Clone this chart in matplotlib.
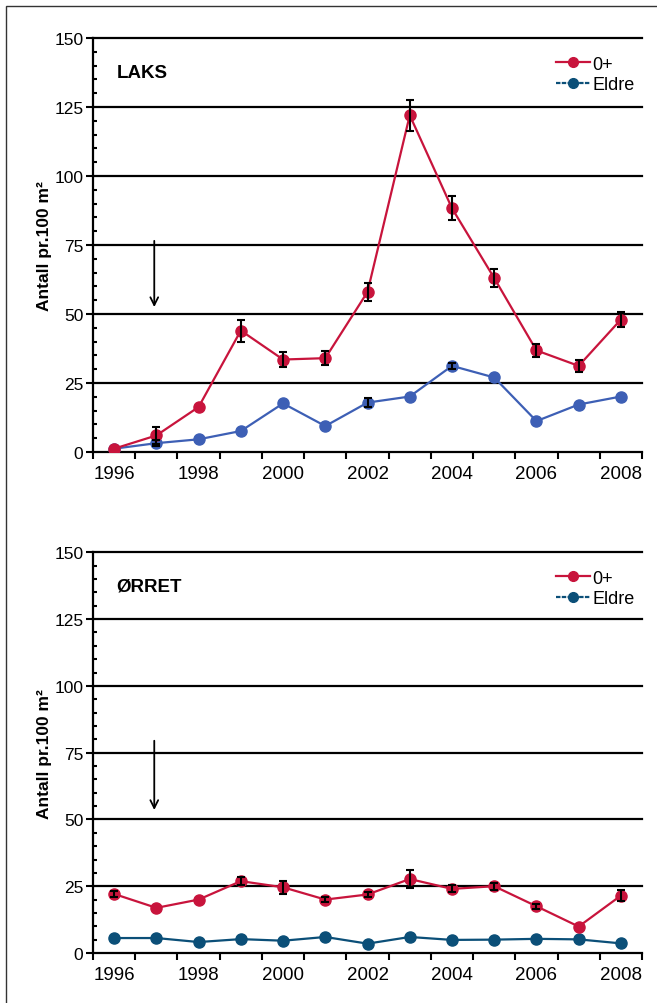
import matplotlib.pyplot as plt
import numpy as np
from matplotlib.lines import Line2D
from matplotlib.patches import Rectangle

plt.rcParams['font.family'] = ['Liberation Sans', 'DejaVu Sans']

years = list(range(1996, 2009))
year_labels = ['1996', '1998', '2000', '2002', '2004', '2006', '2008']

# LAKS, antall pr. 100 m2
laks_0 = [1.2, 6.0, 16.3, 44.0, 33.5, 34.0, 58.0, 122.0, 88.3, 63.0, 36.8, 31.2, 48.0]
laks_0_err = [0, 3.0, 0, 4.0, 2.8, 2.5, 3.3, 5.7, 4.4, 3.4, 2.4, 2.1, 2.7]
laks_eldre = [1.2, 3.2, 4.6, 7.6, 17.6, 9.4, 17.9, 20.1, 31.2, 27.0, 11.2, 17.2, 20.1]
laks_eldre_err = [0, 1.2, 0, 0, 0, 0, 1.5, 0, 1.0, 0, 0, 0, 0]

# ØRRET, antall pr. 100 m2
orret_0 = [22.1, 16.9, 20.0, 26.9, 24.6, 20.0, 21.9, 27.7, 24.0, 25.0, 17.5, 9.9, 21.5]
orret_0_err = [1.0, 0, 0, 1.5, 2.4, 0.8, 0.8, 3.5, 1.3, 1.3, 1.0, 0, 2.0]
orret_eldre = [5.6, 5.6, 4.1, 5.2, 4.6, 6.0, 3.5, 6.0, 4.9, 5.0, 5.3, 5.1, 3.6]
orret_eldre_err = [0] * 13

RED = '#c8143c'
BLUE = '#3d5fb5'
TEAL = '#0b4f78'


def add_errors(ax, x, y, err):
    x = np.asarray(x)
    y = np.asarray(y)
    err = np.asarray(err)
    m = err > 0
    if m.any():
        ax.errorbar(x[m], y[m], yerr=err[m], fmt='none', ecolor='black',
                    elinewidth=1.5, capsize=3, capthick=1.5, zorder=5)


def plot_panel(ax, title, young, young_err, old, old_err, old_color, arrow_top, arrow_bottom):
    x = np.arange(len(years))
    ax.plot(x, young, color=RED, lw=1.6, marker='o', ms=8, zorder=4)
    ax.plot(x, old, color=old_color, lw=1.6, marker='o', ms=8, zorder=3)
    add_errors(ax, x, young, young_err)
    add_errors(ax, x, old, old_err)

    ax.set_xlim(-0.5, len(years) - 0.5)
    ax.set_ylim(0, 150)
    for v in range(25, 151, 25):
        ax.axhline(v, color='black', lw=1.6, zorder=1, clip_on=False)

    ax.set_yticks(range(0, 151, 25))
    ax.set_yticks(range(0, 151, 5), minor=True)
    ax.tick_params(axis='y', which='major', direction='out', length=5, width=1.5,
                   labelsize=12.5, pad=2)
    ax.tick_params(axis='y', which='minor', direction='in', length=3, width=1.5)

    ax.set_xticks(np.arange(-0.5, len(years), 1))
    ax.set_xticklabels([])
    ax.set_xticks(x[::2], minor=True)
    ax.set_xticklabels(year_labels, minor=True)
    ax.tick_params(axis='x', which='major', direction='out', length=5, width=1.5)
    ax.tick_params(axis='x', which='minor', length=0, labelsize=13.5, pad=9)

    for s in ['top', 'right']:
        ax.spines[s].set_visible(False)
    for s in ['left', 'bottom']:
        ax.spines[s].set_linewidth(1.6)

    ax.set_ylabel('Antall pr.100 m²', fontsize=12.5, fontweight='bold')
    ax.yaxis.set_label_coords(-0.075, 0.5)
    ax.text(0.043, 0.917, title, transform=ax.transAxes, fontsize=13.5,
            fontweight='bold', va='center', ha='left')

    ax.annotate('', xy=(0.95, arrow_bottom), xytext=(0.95, arrow_top),
                arrowprops=dict(arrowstyle='->', color='black', lw=1.3,
                                mutation_scale=14))

    handles = [Line2D([], [], color=RED, lw=1.6, marker='o', ms=7),
               Line2D([], [], color=TEAL, lw=1.6, ls=(0, (2, 0.6)), marker='o', ms=7)]
    ax.legend(handles, ['0+', 'Eldre'], loc='upper right', bbox_to_anchor=(1.0, 0.975),
              frameon=False, fontsize=13, handlelength=1.9, handletextpad=0.15,
              labelspacing=0.2, borderaxespad=0.0)


fig = plt.figure(figsize=(6.57, 10.04), dpi=100)
ax1 = fig.add_axes([0.1416, 0.5488, 0.8356, 0.4124])
ax2 = fig.add_axes([0.1416, 0.0498, 0.8356, 0.3991])

plot_panel(ax1, 'LAKS', laks_0, laks_0_err, laks_eldre, laks_eldre_err, BLUE, 77.5, 51.5)
plot_panel(ax2, 'ØRRET', orret_0, orret_0_err, orret_eldre, orret_eldre_err, TEAL, 80.5, 52.5)

fig.patches.append(Rectangle((6 / 657, -0.1), 1.1, 1.1 - 7 / 1004,
                             transform=fig.transFigure, fill=False,
                             edgecolor='#333333', lw=1.0))

fig.savefig('out.png', dpi=100)
